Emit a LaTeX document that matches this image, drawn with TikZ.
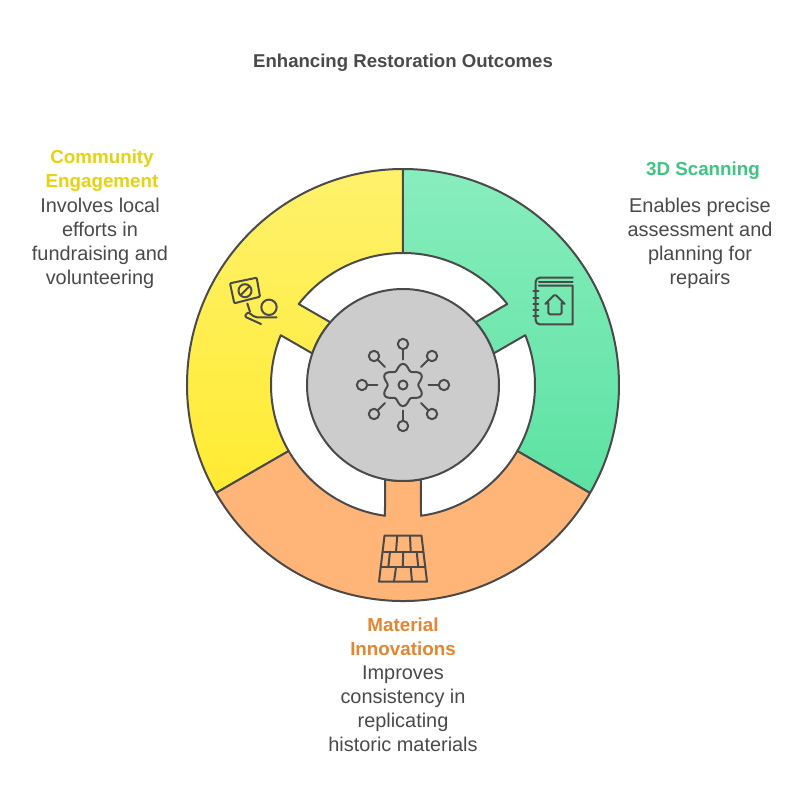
\documentclass[tikz,border=0pt]{standalone}
\usepackage{fontspec}
\setmainfont{Liberation Sans}
\usepackage{xcolor}
\definecolor{ink}{RGB}{74,74,74}
\definecolor{hubgray}{RGB}{204,204,204}
\definecolor{scangreen}{RGB}{61,197,131}
\definecolor{communityyellow}{RGB}{230,210,15}
\definecolor{materialorange}{RGB}{229,133,47}
\definecolor{orangefill}{RGB}{255,181,119}
\tikzset{
  segment/.style={draw=ink, line width=2pt, line join=round},
  icon/.style={draw=ink, line width=2pt, line cap=round, line join=round},
  heading/.style={font=\fontsize{18.8}{24}\selectfont\bfseries, align=center},
  body/.style={font=\fontsize{19.9}{24}\selectfont, text=ink, align=center}
}

\begin{document}
\begin{tikzpicture}[x=1pt, y=1pt]
  \useasboundingbox (-403,-421) rectangle (403,385);
  \fill[white] (-403,-421) rectangle (403,385);

  % 3D Scanning segment
  \path[segment, top color={rgb,255:red,136;green,237;blue,189}, middle color={rgb,255:red,132;green,236;blue,186}, bottom color={rgb,255:red,92;green,226;blue,163}]
    (90:216) arc[start angle=90, end angle=-30, radius=216]
    -- (-30:132) arc[start angle=-30, end angle=22.16, radius=132]
    -- (19.2:96) arc[start angle=19.2, end angle=40.8, radius=96]
    -- (37.84:132) arc[start angle=37.84, end angle=90, radius=132] -- cycle;

  % Community Engagement segment
  \path[segment, top color={rgb,255:red,255;green,241;blue,108}, middle color={rgb,255:red,255;green,239;blue,98}, bottom color={rgb,255:red,255;green,235;blue,50}]
    (90:216) arc[start angle=90, end angle=210, radius=216]
    -- (210:132) arc[start angle=210, end angle=157.84, radius=132]
    -- (160.8:96) arc[start angle=160.8, end angle=139.2, radius=96]
    -- (142.16:132) arc[start angle=142.16, end angle=90, radius=132] -- cycle;

  % Material Innovations segment
  \path[segment, fill=orangefill]
    (210:216) arc[start angle=210, end angle=330, radius=216]
    -- (330:132) arc[start angle=330, end angle=277.84, radius=132]
    -- (280.8:96) arc[start angle=280.8, end angle=259.2, radius=96]
    -- (262.16:132) arc[start angle=262.16, end angle=210, radius=132] -- cycle;

  % Hub
  \node[circle, draw=ink, line width=2pt, fill=hubgray, minimum size=192pt, inner sep=0pt] (hub) at (0,0) {};

  % Hub icon
  \draw[icon, smooth cycle] plot[domain=0:355, samples=72] (\x:{18.2+2.9*cos(6*\x-180)});
  \draw[icon] (0,0) circle (4.5);
  \foreach \a in {0,45,...,315} {
    \draw[icon] (\a:25.5) -- (\a:35.5);
    \draw[icon] (\a:41) circle (5.2);
  }

  % Book icon
  \draw[icon] (169.7,107.3) -- (136.7,107.3) to[out=180, in=90] (132.7,103.3) -- (132.7,64.7) to[out=-90, in=180] (136.7,60.7) -- (169.7,60.7) -- (169.7,99.3) -- (135.7,99.3);
  \draw[icon] (136,103.3) -- (169.7,103.3);
  \foreach \y in {94,87.3,81.3,75.3,69} {
    \draw[icon] (130.3,\y) -- (135.3,\y);
  }
  \draw[icon, rounded corners=1.5pt] (141.3,80) -- (152,90.7) -- (162.7,80) -- (158.7,83.5) -- (158.7,70.7) -- (145.3,70.7) -- (145.3,83.5) -- cycle;

  % Sign icon
  \draw[icon, rounded corners=1pt] (-173,101.7) -- (-146.3,107.3) -- (-143,88.3) -- (-168.7,81.7) -- cycle;
  \draw[icon] (-158,94.3) circle (6.5);
  \draw[icon] (-162.3,90) -- (-153.7,98.6);
  \draw[icon] (-155.7,81.5) -- (-153,73.3);
  \draw[icon, rounded corners=2pt] (-126.3,67.7) -- (-148,67.7) -- (-155,73) -- (-158.5,68.5) -- (-142,61);
  \draw[icon] (-134,77.7) circle (7.7);

  % Brick icon
  \draw[icon] (-18.5,-150.7) -- (18.5,-150.7) -- (24,-196.7) -- (-24,-196.7) -- cycle;
  \draw[icon] (-20.4,-166.7) -- (20.4,-166.7);
  \draw[icon] (-22.3,-182.3) -- (22.3,-182.3);
  \foreach \xa/\xb in {-5.7/-7, 7/7.7} {
    \draw[icon] (\xa,-150.7) -- (\xb,-166.7);
  }
  \foreach \xa/\xb in {-13/-14.7, 0.3/-0.3, 13.7/15.3} {
    \draw[icon] (\xa,-166.7) -- (\xb,-182.3);
  }
  \foreach \xa/\xb in {-7/-9, 7.7/9} {
    \draw[icon] (\xa,-182.3) -- (\xb,-196.7);
  }

  % Labels
  \node[heading, text=ink, font=\fontsize{18.6}{24}\selectfont\bfseries] (title) at (0,322) {Enhancing Restoration Outcomes};

  \node[heading, text=scangreen] (scanhead) at (300,214) {3D Scanning};
  \node[body] (scanbody) at (297,142) {Enables precise\\assessment and\\planning for\\repairs};

  \node[heading, text=communityyellow] (commhead) at (-301,214) {Community\\Engagement};
  \node[body] (commbody) at (-303,142) {Involves local\\efforts in\\fundraising and\\volunteering};

  \node[heading, text=materialorange] (mathead) at (0,-252) {Material\\Innovations};
  \node[body] (matbody) at (0,-324) {Improves\\consistency in\\replicating\\historic materials};
\end{tikzpicture}
\end{document}
